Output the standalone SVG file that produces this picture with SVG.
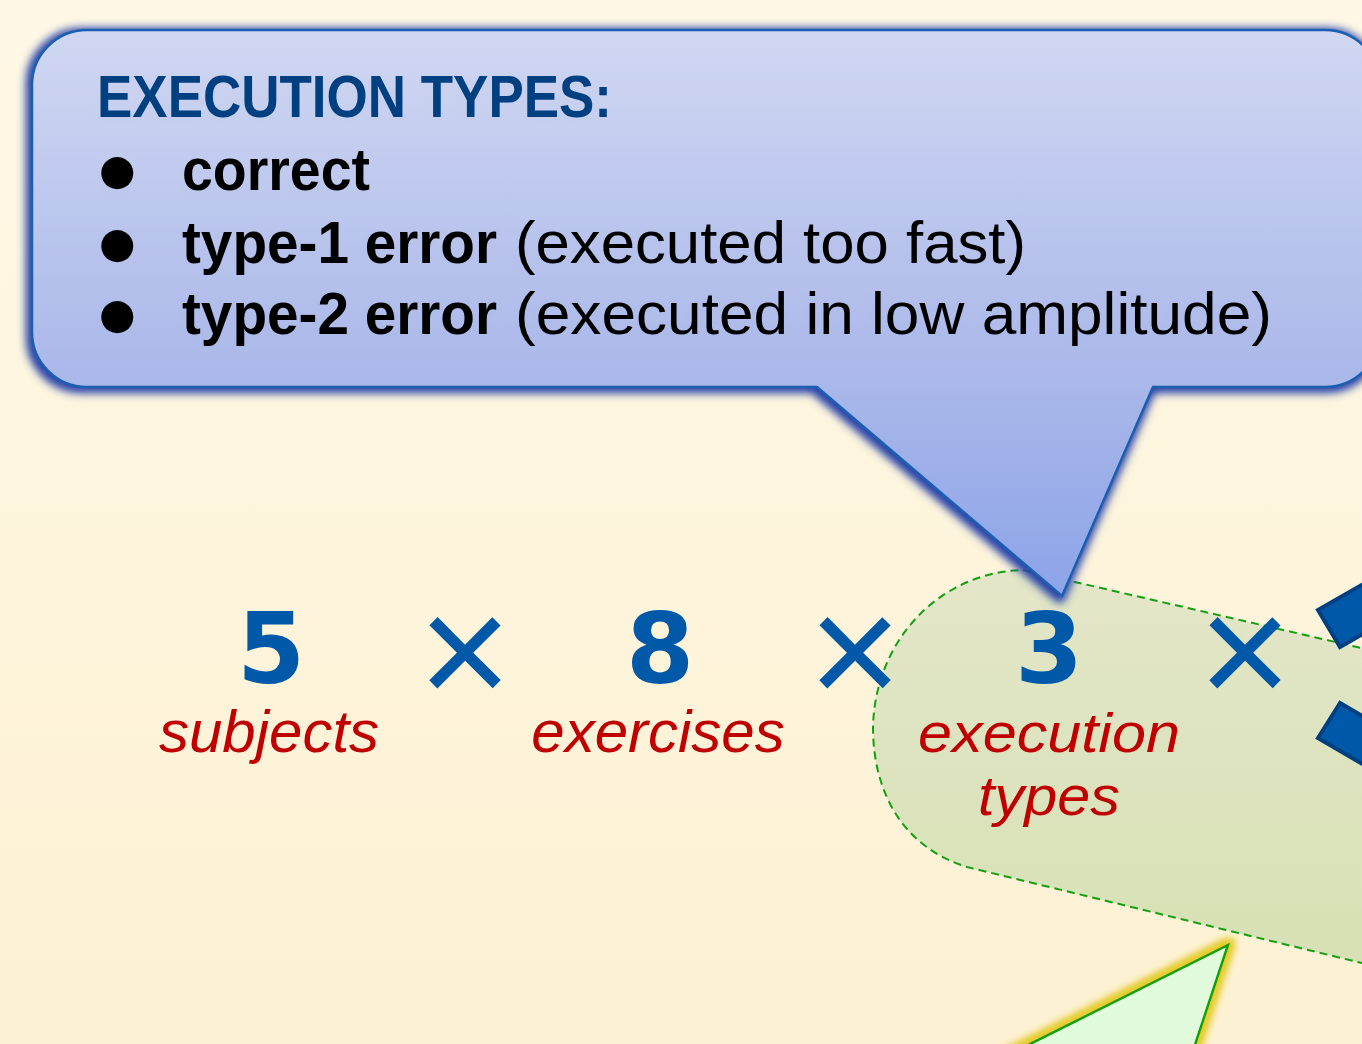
<svg xmlns="http://www.w3.org/2000/svg" width="1362" height="1044" viewBox="0 0 1362 1044">
  <defs>
    <linearGradient id="bg" x1="0" y1="0" x2="0" y2="1">
      <stop offset="0" stop-color="#fef8e6"/>
      <stop offset="1" stop-color="#fdf1d3"/>
    </linearGradient>
    <linearGradient id="calloutFill" gradientUnits="userSpaceOnUse" x1="0" y1="30" x2="0" y2="596">
      <stop offset="0" stop-color="#d5dcf5"/>
      <stop offset="0.63" stop-color="#adbbec"/>
      <stop offset="1" stop-color="#8fa7ec"/>
    </linearGradient>
    <linearGradient id="blobFill" gradientUnits="userSpaceOnUse" x1="0" y1="570" x2="0" y2="965">
      <stop offset="0" stop-color="#b8cfa8" stop-opacity="0.38"/>
      <stop offset="1" stop-color="#a8cc8c" stop-opacity="0.45"/>
    </linearGradient>
    <filter id="calloutShadow" x="-5%" y="-10%" width="110%" height="125%">
      <feMorphology in="SourceAlpha" operator="dilate" radius="3" result="d"/>
      <feGaussianBlur in="d" stdDeviation="4"/>
      <feOffset dx="-2" dy="2" result="b"/>
      <feFlood flood-color="#2440a8" flood-opacity="1"/>
      <feComposite in2="b" operator="in"/>
      <feMerge><feMergeNode/><feMergeNode in="SourceGraphic"/></feMerge>
    </filter>
    <filter id="yellowGlow" x="-20%" y="-20%" width="140%" height="140%">
      <feMorphology in="SourceAlpha" operator="dilate" radius="5" result="d"/>
      <feGaussianBlur in="d" stdDeviation="3" result="g"/>
      <feFlood flood-color="#e4cc28" flood-opacity="1"/>
      <feComposite in2="g" operator="in"/>
      <feMerge><feMergeNode/><feMergeNode in="SourceGraphic"/></feMerge>
    </filter>
    <style>
      .head { font-family: "Liberation Sans", Arial, sans-serif; font-weight: bold; font-size: 60px; fill: #003f80; }
      .bul { font-family: "DejaVu Sans", "Liberation Sans", sans-serif; font-size: 42px; fill: #000; }
      .b { font-family: "Liberation Sans", Arial, sans-serif; font-weight: bold; font-size: 59px; fill: #000; }
      .r { font-family: "Liberation Sans", Arial, sans-serif; font-size: 59px; fill: #000; }
      .num { font-family: "DejaVu Sans", Verdana, sans-serif; font-weight: bold; font-size: 98px; fill: #0058a8; text-anchor: middle; }
      .times { font-family: "Liberation Sans", Arial, sans-serif; font-size: 160px; fill: #0058a8; text-anchor: middle; }
      .lbl { font-family: "Liberation Sans", Arial, sans-serif; font-style: italic; font-size: 60px; fill: #c00000; text-anchor: middle; }
      .lbl2 { font-family: "Liberation Sans", Arial, sans-serif; font-style: italic; font-size: 56px; fill: #c00000; text-anchor: middle; }
      .darkbar { fill: #0058a8; stroke: #003f80; stroke-width: 4; }
    </style>
  </defs>

  <rect x="0" y="0" width="1362" height="1044" fill="url(#bg)"/>

  <g id="green-triangle" filter="url(#yellowGlow)">
    <polygon points="1228,945 1190,1060 998,1060" fill="#e2fadc" stroke="#10a010" stroke-width="2.5" stroke-linejoin="miter"/>
  </g>

  <g id="blob-execution-types">
    <path d="M 1023 570 L 1370 650 L 1370 965 L 967 867 C 905 848, 873 795, 873 727 C 875 640, 940 572, 1023 570 Z"
          fill="url(#blobFill)" stroke="#12a012" stroke-width="2" stroke-dasharray="8 5"/>
  </g>

  <g id="right-bars">
    <polygon class="darkbar" points="1318,610 1340,647 1420,601 1398,564"/>
    <polygon class="darkbar" points="1340,703 1318,738 1400,786 1422,751"/>
  </g>

  <g id="callout" filter="url(#calloutShadow)">
    <path d="M 87 30 H 1325 A 55 55 0 0 1 1380 85 V 332 A 55 55 0 0 1 1325 387 H 1153 L 1062 596 L 817 387 H 87 A 55 55 0 0 1 32 332 V 85 A 55 55 0 0 1 87 30 Z"
          fill="url(#calloutFill)" fill-opacity="0.94" stroke="#1a5fb0" stroke-width="2.5" stroke-linejoin="miter"/>
    <text class="head" x="97" y="117" textLength="515" lengthAdjust="spacingAndGlyphs">EXECUTION TYPES:</text>
    <text class="bul" x="99" y="184">●</text>
    <text class="b" x="182" y="190" textLength="188" lengthAdjust="spacingAndGlyphs">correct</text>
    <text class="bul" x="99" y="257">●</text>
    <text class="b" x="182" y="263" textLength="315" lengthAdjust="spacingAndGlyphs">type-1 error</text>
    <text class="r" x="515" y="263" textLength="511" lengthAdjust="spacingAndGlyphs">(executed too fast)</text>
    <text class="bul" x="99" y="328">●</text>
    <text class="b" x="182" y="334" textLength="315" lengthAdjust="spacingAndGlyphs">type-2 error</text>
    <text class="r" x="515" y="334" textLength="757" lengthAdjust="spacingAndGlyphs">(executed in low amplitude)</text>
  </g>

  <g id="factor-subjects">
    <text class="num" x="271" y="683">5</text>
    <text class="lbl" x="269" y="752">subjects</text>
  </g>
  <g id="times-1"><text class="times" x="465" y="706">×</text></g>
  <g id="factor-exercises">
    <text class="num" x="660" y="683">8</text>
    <text class="lbl" x="658" y="752">exercises</text>
  </g>
  <g id="times-2"><text class="times" x="855" y="706">×</text></g>
  <g id="factor-execution-types">
    <text class="num" x="1049" y="683">3</text>
    <text class="lbl2" x="1049" y="752" textLength="262" lengthAdjust="spacingAndGlyphs">execution</text>
    <text class="lbl2" x="1049" y="815" textLength="142" lengthAdjust="spacingAndGlyphs">types</text>
  </g>
  <g id="times-3"><text class="times" x="1245" y="706">×</text></g>

  <g id="connectors"></g>
</svg>
